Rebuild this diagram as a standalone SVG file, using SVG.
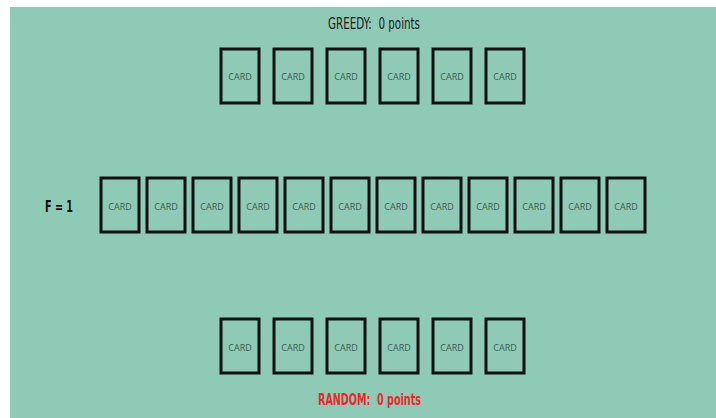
<svg xmlns="http://www.w3.org/2000/svg" width="716" height="418" viewBox="0 0 716 418">
<style>
.card rect{fill:none;stroke:#111;stroke-width:3}
.card text{font-family:"Open Sans","Noto Sans",sans-serif;font-size:9px;fill:#3d5a50;text-anchor:middle;dominant-baseline:central}
.lbl{font-family:"DejaVu Sans Condensed","DejaVu Sans",sans-serif;font-stretch:condensed;text-anchor:middle}
</style>
<rect x="0" y="0" width="716" height="418" fill="#ffffff"/>
<rect x="10" y="7" width="706" height="411" fill="#8ecab6"/>
<text class="lbl" x="374" y="29" font-size="15" fill="#1a1a1a" textLength="92" lengthAdjust="spacingAndGlyphs" xml:space="preserve">GREEDY:  0 points</text>
<text class="lbl" x="369.5" y="405" font-size="15" font-weight="bold" fill="#e52a2a" textLength="103" lengthAdjust="spacingAndGlyphs" xml:space="preserve">RANDOM:  0 points</text>
<text class="lbl" x="59" y="212" font-size="15" font-weight="bold" fill="#111" textLength="28" lengthAdjust="spacingAndGlyphs">F = 1</text>
<g id="top">
<g id="g1" class="card"><rect x="221" y="49" width="38" height="54"/><text x="240" y="76">CARD</text></g>
<g id="g2" class="card"><rect x="274" y="49" width="38" height="54"/><text x="293" y="76">CARD</text></g>
<g id="g3" class="card"><rect x="327" y="49" width="38" height="54"/><text x="346" y="76">CARD</text></g>
<g id="g4" class="card"><rect x="380" y="49" width="38" height="54"/><text x="399" y="76">CARD</text></g>
<g id="g5" class="card"><rect x="433" y="49" width="38" height="54"/><text x="452" y="76">CARD</text></g>
<g id="g6" class="card"><rect x="486" y="49" width="38" height="54"/><text x="505" y="76">CARD</text></g>
</g>
<g id="middle">
<g id="m1" class="card"><rect x="101" y="178" width="38" height="54"/><text x="120" y="206">CARD</text></g>
<g id="m2" class="card"><rect x="147" y="178" width="38" height="54"/><text x="166" y="206">CARD</text></g>
<g id="m3" class="card"><rect x="193" y="178" width="38" height="54"/><text x="212" y="206">CARD</text></g>
<g id="m4" class="card"><rect x="239" y="178" width="38" height="54"/><text x="258" y="206">CARD</text></g>
<g id="m5" class="card"><rect x="285" y="178" width="38" height="54"/><text x="304" y="206">CARD</text></g>
<g id="m6" class="card"><rect x="331" y="178" width="38" height="54"/><text x="350" y="206">CARD</text></g>
<g id="m7" class="card"><rect x="377" y="178" width="38" height="54"/><text x="396" y="206">CARD</text></g>
<g id="m8" class="card"><rect x="423" y="178" width="38" height="54"/><text x="442" y="206">CARD</text></g>
<g id="m9" class="card"><rect x="469" y="178" width="38" height="54"/><text x="488" y="206">CARD</text></g>
<g id="m10" class="card"><rect x="515" y="178" width="38" height="54"/><text x="534" y="206">CARD</text></g>
<g id="m11" class="card"><rect x="561" y="178" width="38" height="54"/><text x="580" y="206">CARD</text></g>
<g id="m12" class="card"><rect x="607" y="178" width="38" height="54"/><text x="626" y="206">CARD</text></g>
</g>
<g id="bottom">
<g id="r1" class="card"><rect x="221" y="319" width="38" height="54"/><text x="240" y="347">CARD</text></g>
<g id="r2" class="card"><rect x="274" y="319" width="38" height="54"/><text x="293" y="347">CARD</text></g>
<g id="r3" class="card"><rect x="327" y="319" width="38" height="54"/><text x="346" y="347">CARD</text></g>
<g id="r4" class="card"><rect x="380" y="319" width="38" height="54"/><text x="399" y="347">CARD</text></g>
<g id="r5" class="card"><rect x="433" y="319" width="38" height="54"/><text x="452" y="347">CARD</text></g>
<g id="r6" class="card"><rect x="486" y="319" width="38" height="54"/><text x="505" y="347">CARD</text></g>
</g>
<g id="connectors"/>
</svg>
